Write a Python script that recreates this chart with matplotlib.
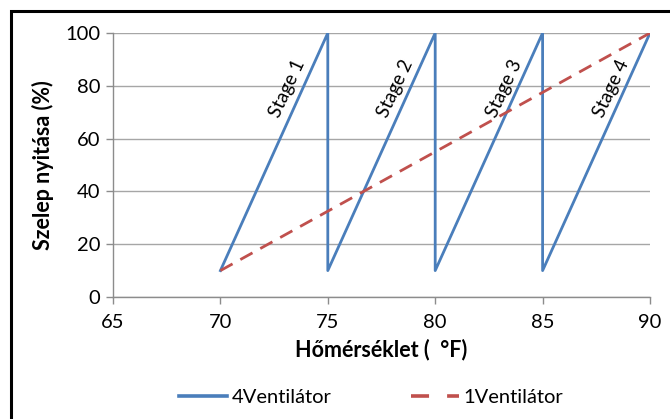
import matplotlib
matplotlib.use("Agg")
import matplotlib.pyplot as plt
from matplotlib.patches import Rectangle

# Valve opening vs temperature
temp_4fan = [70, 75, 75, 80, 80, 85, 85, 90]
open_4fan = [10, 100, 10, 100, 10, 100, 10, 100]
temp_1fan = [70, 90]
open_1fan = [10, 100]
stage_labels = ["Stage 1", "Stage 2", "Stage 3", "Stage 4"]
stage_x = [73.1, 78.15, 83.2, 88.2]
stage_y = [79, 79, 79, 79]

plt.rcParams['font.family'] = ['Lato', 'DejaVu Sans']

W, H = 670, 419
fig = plt.figure(figsize=(W / 100, H / 100), dpi=100)
ax = fig.add_axes([113 / W, 1 - 297 / H, (650 - 113) / W, (297 - 33) / H])

blue = "#4A7EBB"
red = "#C0504D"
ax.plot(temp_4fan, open_4fan, color=blue, lw=2.0, label="4Ventilátor", zorder=3)
ax.plot(temp_1fan, open_1fan, color=red, lw=2.0, ls=(0, (5, 3.2)), label="1Ventilátor", zorder=3)

for s, x, y in zip(stage_labels, stage_x, stage_y):
    ax.text(x, y, s, rotation=65, ha="center", va="center", fontsize=13.5, color="black", zorder=4)

ax.set_xlim(65, 90)
ax.set_ylim(0, 100)
ax.set_xticks(range(65, 91, 5))
ax.set_yticks(range(0, 101, 20))
ax.grid(axis="y", color="#A6A6A6", lw=1)
ax.set_axisbelow(True)
for side in ("top", "right"):
    ax.spines[side].set_visible(False)
for side in ("left", "bottom"):
    ax.spines[side].set_color("#8C8C8C")
    ax.spines[side].set_linewidth(1)
ax.tick_params(axis="both", colors="#8C8C8C", labelcolor="black", labelsize=14.5, length=5, width=1)
ax.tick_params(axis="x", pad=7)
ax.tick_params(axis="y", pad=4)

ax.set_xlabel("Hőmérséklet (  °F)", fontsize=15.5, fontweight="bold", labelpad=6)
ax.set_ylabel("Szelep nyitása (%)", fontsize=15.5, fontweight="bold", labelpad=8)

leg = fig.legend(loc="center", bbox_to_anchor=(371 / W, 1 - 397 / H), ncol=2, frameon=False,
                 fontsize=14.5, handlelength=2.4, handletextpad=0.2, columnspacing=3.95)
leg_lines = leg.get_lines()
for line in leg_lines:
    line.set_linewidth(2.6)
leg_lines[1].set_linestyle((0, (5, 5)))

fig.patches.append(Rectangle((10.5 / W, -0.05), 1.2, 1 - 11.5 / H + 0.05, transform=fig.transFigure,
                             fill=False, edgecolor="black", lw=2.2))

fig.savefig("out.png", dpi=100)
